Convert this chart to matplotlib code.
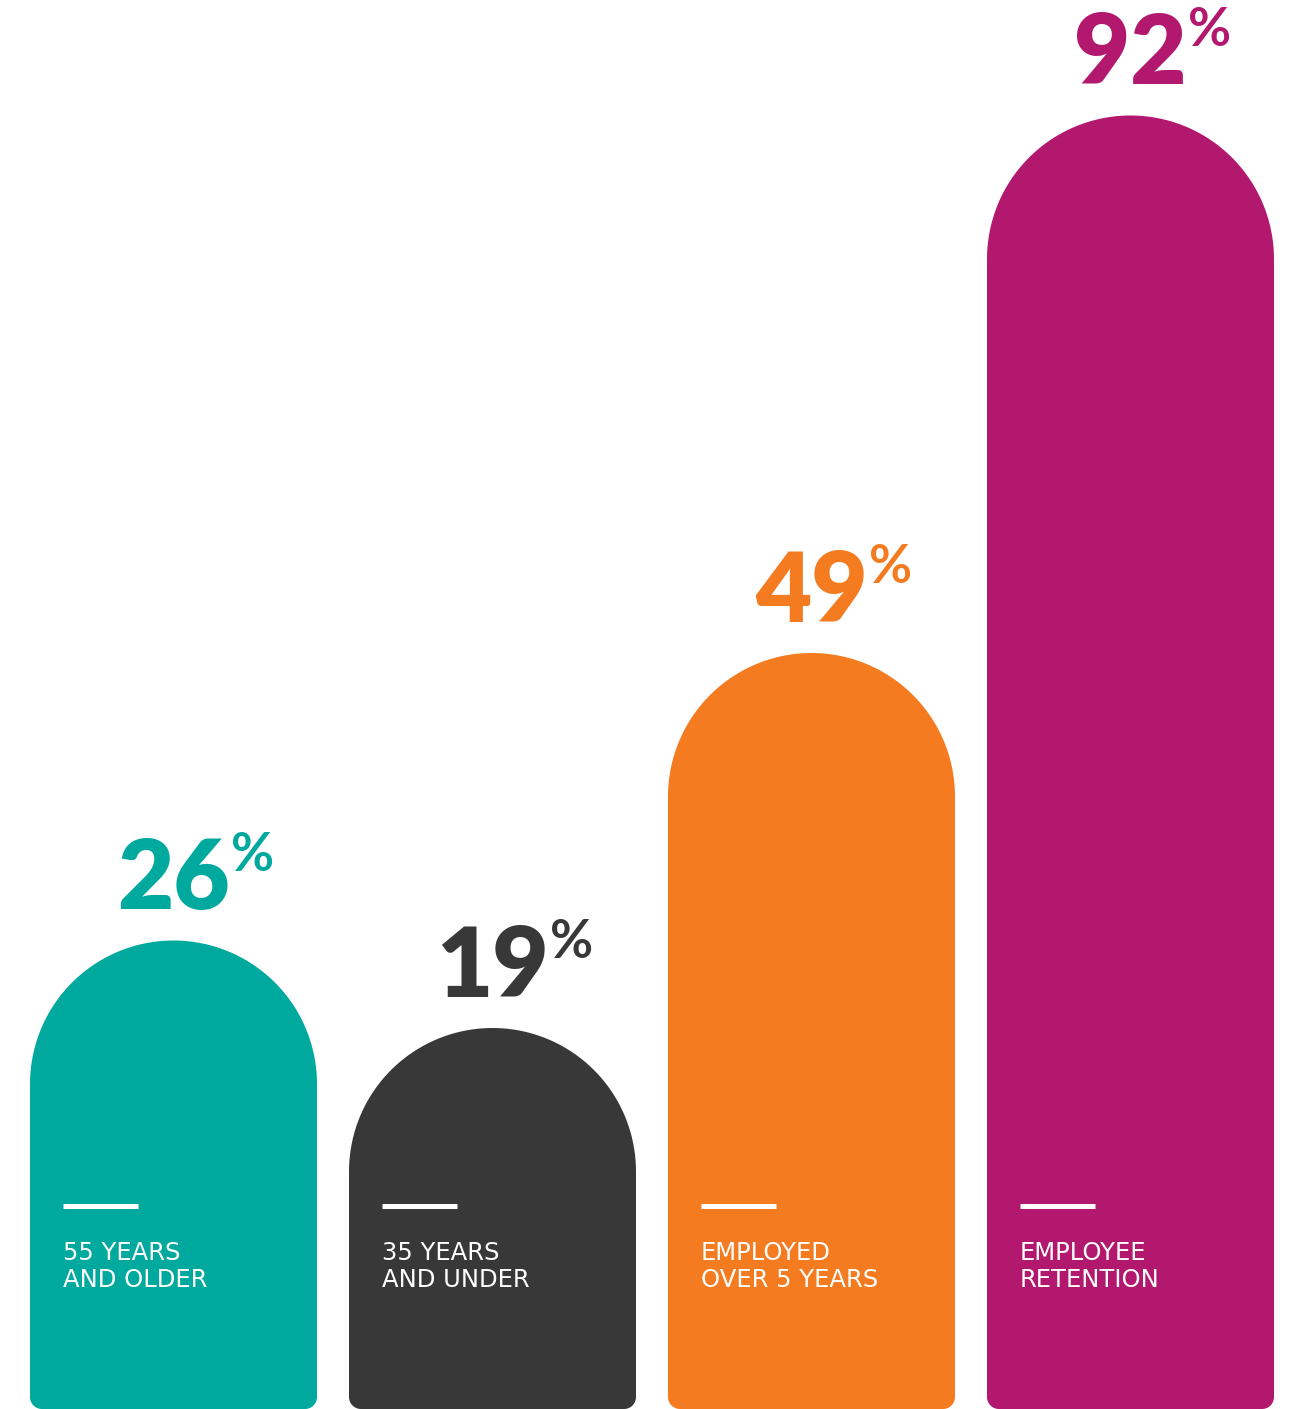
import matplotlib
matplotlib.use('Agg')
import matplotlib.pyplot as plt
import numpy as np

values = [26, 19, 49, 92]
labels = ['55 YEARS\nAND OLDER', '35 YEARS\nAND UNDER',
          'EMPLOYED\nOVER 5 YEARS', 'EMPLOYEE\nRETENTION']
colors = ['#00A99D', '#383838', '#F47B20', '#B2196E']

W, H, DPI = 1293, 1409, 100
PX_X = 319.0      # pixels per category step
PX_Y = 12.5       # pixels per percentage point
BAR_W = 287.0     # bar width in pixels
X0 = 173.5        # pixel centre of first bar

fig = plt.figure(figsize=(W / DPI, H / DPI), dpi=DPI)
ax = fig.add_axes([0, 0, 1, 1])
ax.set_xlim(-X0 / PX_X, (W - X0) / PX_X)
ax.set_ylim(0, H / PX_Y)
ax.set_axis_off()

rx = BAR_W / 2 / PX_X          # cap radius in x data units
ry = BAR_W / 2 / PX_Y          # cap radius in y data units
cx, cy = 12 / PX_X, 12 / PX_Y  # small bottom corner radius


def bar_outline(xc, v):
    """Straight bar of height v with a semicircular cap and rounded feet."""
    left, right = xc - rx, xc + rx
    t = np.linspace(0, np.pi / 2, 20)
    pts = list(zip(left + cx - cx * np.cos(t), cy - cy * np.sin(t)))[::-1]
    a = np.linspace(np.pi, 0, 80)
    pts += list(zip(xc + rx * np.cos(a), v + ry * np.sin(a)))
    pts += list(zip(right - cx + cx * np.cos(t), cy - cy * np.sin(t)))
    return np.array(pts)


for i, (v, lab, col) in enumerate(zip(values, labels, colors)):
    poly = bar_outline(i, v)
    ax.fill(poly[:, 0], poly[:, 1], color=col, lw=0)

    # value label above the cap
    top = v + ry
    num = ax.text(i, top + 31 / PX_Y, str(v), ha='center', va='baseline',
                  color=col, fontsize=70, fontfamily='Lato',
                  fontweight='heavy')
    ax.annotate('%', xy=(1.0, 1.0), xycoords=num, xytext=(1, 4),
                textcoords='offset points', ha='left', va='top',
                color=col, fontsize=38, fontfamily='Lato',
                fontweight='bold')

    # short white rule and category text
    left = i - rx
    ax.plot([left + 33 / PX_X, left + 108 / PX_X],
            [(H - 1205.5) / PX_Y] * 2, color='white', lw=3.6,
            solid_capstyle='butt')
    for k, line in enumerate(lab.split('\n')):
        ax.text(left + 33 / PX_X, (H - 1260 - 27 * k) / PX_Y, line,
                ha='left', va='baseline', color='white', fontsize=17.5,
                fontfamily='DejaVu Sans')

fig.savefig('out.png', dpi=DPI)
